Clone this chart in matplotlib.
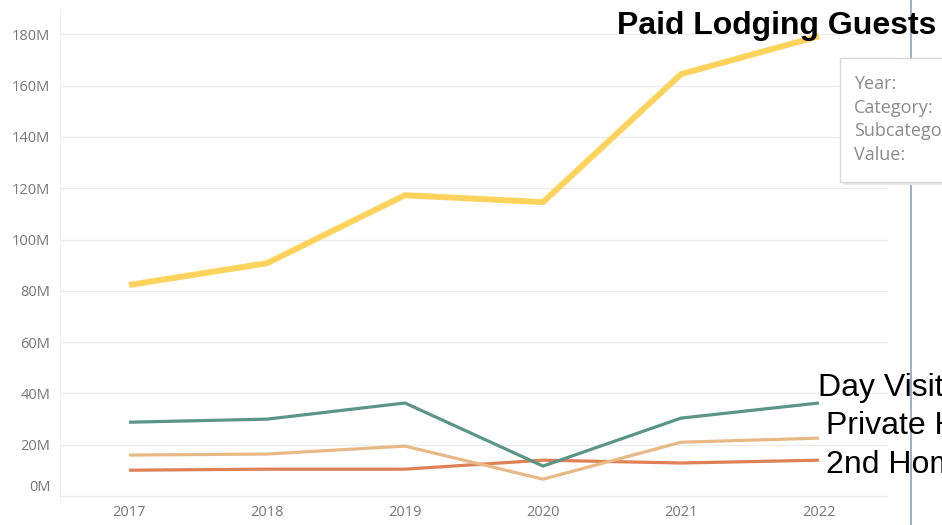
import matplotlib.pyplot as plt
import matplotlib.ticker as mticker
from matplotlib.patches import FancyBboxPatch
from matplotlib.lines import Line2D
from matplotlib.transforms import ScaledTranslation

years = [2017, 2018, 2019, 2020, 2021, 2022]

# values in millions
paid_lodging = [82.3, 90.8, 117.3, 114.6, 164.5, 179.3]
day_visitors = [28.8, 30.0, 36.3, 11.7, 30.4, 36.3]
private_homes = [16.0, 16.4, 19.5, 6.6, 21.0, 22.6]
second_homes = [10.1, 10.5, 10.5, 14.0, 12.9, 14.0]

SERIES = [
    (second_homes,  "#e08055", 2.3, "2nd Homes"),
    (private_homes, "#e8b985", 2.3, "Private Homes"),
    (day_visitors,  "#5a9587", 2.3, "Day Visitors"),
    (paid_lodging,  "#fdd35c", 4.3, "Paid Lodging Guests"),
]

yticks = [0, 20, 40, 60, 80, 100, 120, 140, 160, 180]

fig = plt.figure(figsize=(9.42, 5.25), dpi=100)
fig.patch.set_facecolor("white")
ax = fig.add_axes([60 / 942, 23 / 525, 828 / 942, 492 / 525])
ax.set_facecolor("white")

for vals, color, lw, label in SERIES:
    ax.plot(years, vals, color=color, linewidth=lw, solid_capstyle="butt", zorder=3)

ax.set_xlim(2016.5, 2022.5)
ax.set_ylim(-2.3, 189.5)
ax.set_xticks(years)
ax.set_yticks(yticks)
ax.yaxis.set_major_formatter(mticker.FuncFormatter(lambda v, _: f"{v:.0f}M"))
ax.tick_params(length=0, colors="#777777", labelsize=10.5)
ax.tick_params(axis="y", pad=7)
ax.tick_params(axis="x", pad=2)
for lab in ax.get_xticklabels() + ax.get_yticklabels():
    lab.set_family("Open Sans")
ax.grid(axis="y", color="#ececec", linewidth=0.9)
for side in ["top", "right", "bottom"]:
    ax.spines[side].set_visible(False)
ax.spines["left"].set_color("#f0f0f0")

# tableau nudges the 0M label up
zero_lab = ax.yaxis.get_major_ticks()[0].label1
zero_lab.set_transform(zero_lab.get_transform() + ScaledTranslation(0, 11 / 100, fig.dpi_scale_trans))

# vertical divider
fig.add_artist(Line2D([911 / 942, 911 / 942], [0, 1], color="#8aa4b8", linewidth=1.2, zorder=4))

# line labels (cut off at the right edge, as in the source)
fig.text(617 / 942, 1 - 26 / 525, "Paid Lodging Guests", fontsize=23, fontweight="bold",
         family="Liberation Sans", va="center", ha="left", zorder=5)
fig.text(818 / 942, 1 - 388 / 525, "Day Visitors", fontsize=23,
         family="Liberation Sans", va="center", ha="left", zorder=5)
fig.text(826 / 942, 1 - 426 / 525, "Private Homes", fontsize=23,
         family="Liberation Sans", va="center", ha="left", zorder=5)
fig.text(826 / 942, 1 - 465 / 525, "2nd Homes", fontsize=23,
         family="Liberation Sans", va="center", ha="left", zorder=5)

# tooltip box
shadow = FancyBboxPatch((843 / 942, 1 - 185 / 525), 120 / 942, 124 / 525,
                        boxstyle="square,pad=0", transform=fig.transFigure,
                        facecolor="#e6e6e6", edgecolor="none", zorder=6)
box = FancyBboxPatch((840 / 942, 1 - 182 / 525), 120 / 942, 124 / 525,
                     boxstyle="square,pad=0", transform=fig.transFigure,
                     facecolor="white", edgecolor="#d8d8d8", linewidth=1, zorder=6)
fig.add_artist(shadow)
fig.add_artist(box)
for i, t in enumerate(["Year:", "Category:", "Subcategory:", "Value:"]):
    fig.text(854 / 942, 1 - (84 + i * 23.7) / 525, t, fontsize=13, color="#8a8a8a",
             family="Open Sans", va="center", ha="left", zorder=7)

fig.savefig("out.png", dpi=100, facecolor=fig.get_facecolor())
